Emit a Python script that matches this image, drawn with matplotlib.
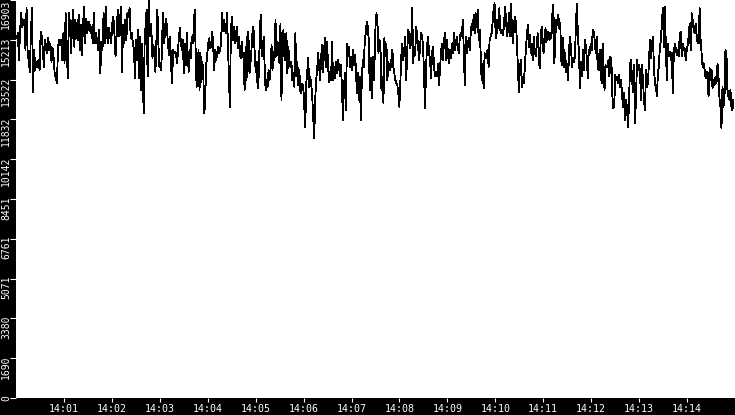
import numpy as np
import matplotlib
matplotlib.use("Agg")
import matplotlib.pyplot as plt
from matplotlib.transforms import ScaledTranslation, blended_transform_factory

# ---- data: value trace in six 2.5-minute windows ----
seg1 = [15280, 15490, 14350, 15560, 16340, 15770, 15980, 16050, 14780, 16550,
        14640, 14350, 13860, 15490, 16550, 13010, 14780, 13930, 14280, 14070,
        14350, 13930, 15560, 15350, 14780, 14070, 15200, 14920, 14640, 15280,
        14780, 15060, 14280, 14850, 14430, 13720, 13650, 13360, 14920, 15200,
        14990, 15200, 14350, 15490, 14210, 16340, 14920, 13580, 16340, 15910,
        14640, 15840, 16480, 14920, 16050, 15630, 15200, 16270, 14780, 15840,
        14570, 15770, 16620, 15060, 16120, 15490, 15980, 15910, 15490, 15770,
        15060, 16340, 15060, 15490, 15200, 14780, 15630, 13790, 15130, 14780,
        16340, 15060, 16620, 15490, 15060, 15700, 15350, 15060, 15910, 16190,
        15490, 14500, 15350, 16480, 15350, 15910, 16620, 13860, 15840, 15060,
        16050, 15200, 16340, 16190, 16550, 15280, 15490, 15060, 14780, 13580]
seg2 = [15200, 14350, 15630, 13580, 15350, 13080, 15060, 13930, 12090, 15200,
        15840, 16480, 13650, 16903, 15350, 15910, 15490, 14430, 14990, 14500,
        13860, 15130, 16480, 15060, 14070, 14210, 13930, 15490, 16340, 15060,
        15770, 16120, 15490, 14920, 14570, 15350, 14140, 13360, 14780, 14640,
        14710, 14640, 14210, 14710, 15350, 15700, 15060, 14780, 15200, 13790,
        15060, 14140, 15490, 14570, 13860, 14780, 14430, 15350, 15060, 15560,
        16480, 14780, 13220, 13860, 14780, 13080, 14640, 13430, 14280, 13500,
        12090, 13010, 14210, 14640, 15060, 15280, 14850, 14990, 15560, 14920,
        13930, 14780, 14350, 14640, 14920, 14640, 14780, 15060, 16340, 15560,
        16050, 15630, 15490, 16340, 15060, 13720, 12370, 15490, 16190, 15200,
        15770, 15060, 15280, 15770, 14850, 15350, 14780, 14430, 15130, 14640,
        14430, 13080, 14920, 13500, 15560, 15350, 13790, 14210, 14780, 15490,
        15770, 14920, 14000]
seg3 = [13860, 14280, 13150, 13650, 15060, 16270, 14500, 14570, 15350, 14140,
        13080, 13500, 13220, 13930, 13500, 13930, 14990, 13930, 14710, 14350,
        16050, 14500, 15130, 14640, 14210, 15910, 12660, 14850, 15630, 14500,
        14350, 15490, 13790, 14920, 14140, 14070, 14280, 13500, 13790, 13220,
        15490, 13650, 14280, 13290, 13930, 13010, 12940, 13360, 13220, 12370,
        11520, 13360, 13860, 14430, 13220, 13650, 13360, 12800, 11880, 11030,
        12660, 13500, 13930, 14640, 14070, 13500, 14500, 14990, 13860, 14850,
        15280, 14070, 15130, 14070, 13430, 13860, 13500, 15130, 13500, 14070,
        13580, 14280, 13790, 14350, 14070, 13650, 14140, 13150, 11810, 13220,
        13790, 12230, 15060, 14570, 14920, 14070, 14500, 13930, 14780, 14140,
        14570, 14070, 12940, 13790, 12660, 13650, 11810, 13500, 14350, 14070,
        15200, 15490, 15980, 15770, 15200, 13080, 14430, 12730, 14500, 13500,
        14500]
seg4 = [15770, 16340, 15910, 14640, 15200, 14920, 13080, 13650, 12510, 15280,
        14500, 15060, 13500, 14280, 14000, 13930, 14350, 14780, 14070, 13790,
        13500, 13360, 13290, 12940, 12370, 13360, 14500, 15060, 14350, 14780,
        15350, 13500, 14780, 15630, 15490, 14850, 15200, 16550, 14210, 14920,
        14570, 15770, 15350, 14920, 14350, 14990, 15490, 15350, 14920, 13580,
        12300, 14070, 14990, 15350, 14640, 14350, 13580, 14640, 14920, 14070,
        13650, 13860, 13650, 14210, 13290, 13930, 14640, 15060, 14350, 15130,
        15490, 14350, 15200, 14640, 14210, 14780, 14430, 15060, 14640, 15490,
        14780, 15060, 15350, 14920, 14640, 15350, 15490, 15350, 16050, 14780,
        13290, 15350, 14640, 14920, 15280, 14780, 15490, 15910, 15630, 16270,
        15490, 16340, 15770, 16480, 15200, 15630, 14640, 13500, 14210, 13150,
        14640, 14430, 14640, 14780, 14070, 15200, 15350, 15490, 15910, 16480,
        16760]
seg5 = [15770, 15280, 16050, 15700, 16550, 15630, 15490, 15630, 15420, 16050,
        16620, 15910, 15350, 15770, 16340, 15350, 16760, 15490, 15060, 15910,
        16190, 15910, 15060, 13930, 13010, 14070, 14350, 13220, 13650, 13360,
        14070, 14780, 15350, 15840, 14920, 15420, 14640, 15060, 14350, 15350,
        14780, 14500, 14920, 15490, 14780, 14000, 15060, 15770, 15280, 14640,
        15060, 15700, 15130, 15490, 15560, 15200, 15490, 15280, 16340, 16690,
        14210, 15350, 16050, 15840, 16270, 15700, 15910, 14350, 14140, 15280,
        14070, 14640, 13860, 14210, 13500, 14850, 15350, 14780, 14070, 14430,
        14280, 14500, 16050, 16760, 15200, 14780, 13150, 14280, 13650, 14780,
        13930, 15200, 14920, 14430, 13580, 14780, 14640, 15060, 14780, 15630,
        15560, 15200, 14640, 15350, 14070, 13930, 14780, 14210, 13360, 15060,
        14140, 13080, 14140, 14070, 14070, 14350, 13650, 14500, 14280, 12800,
        12300, 12510]
seg6 = [13720, 13500, 13650, 13360, 13720, 13220, 13500, 12800, 12370, 12940,
        11810, 12660, 12230, 11520, 12660, 14210, 14350, 13500, 13010, 14140,
        11660, 12800, 14350, 13930, 14140, 13860, 12660, 14140, 13500, 12660,
        12230, 13930, 13220, 13360, 14280, 15200, 14430, 15060, 15350, 14070,
        13360, 13220, 12800, 13790, 14070, 14920, 15200, 15980, 16550, 14920,
        16620, 14920, 13500, 15060, 14500, 14710, 14350, 14640, 12940, 14640,
        15060, 14850, 14570, 14780, 14500, 15490, 15560, 14500, 15060, 14780,
        14850, 14350, 14780, 14990, 15350, 15910, 14780, 16340, 16050, 15630,
        15490, 15910, 15420, 15060, 15060, 16550, 15200, 14640, 14070, 14210,
        13930, 13580, 13860, 13500, 12800, 14000, 13500, 13930, 13150, 13500,
        13290, 13650, 13360, 14210, 13650, 12730, 12370, 11450, 13220, 12370,
        12660, 14780, 14640, 13080, 12800, 12660, 13080, 12370, 12230, 12660]
segments = [seg1, seg2, seg3, seg4, seg5, seg6]
# time window of each segment, seconds after 14:00:00
seg_windows = [(1, 149), (150, 299.6), (300, 449), (450, 599), (600, 749), (750, 898)]

x_range_s = (0, 900)
y_max = 16903
ytick_labels = ["0", "1690", "3380", "5071", "6761", "8451", "10142",
                "11832", "13522", "15213", "16903"]
xtick_labels = ["14:01", "14:02", "14:03", "14:04", "14:05", "14:06", "14:07",
                "14:08", "14:09", "14:10", "14:11", "14:12", "14:13", "14:14"]

times = np.concatenate([np.linspace(a, b, len(s)) for (a, b), s in zip(seg_windows, segments)])
values = np.concatenate([np.asarray(s, dtype=float) for s in segments])

W, H = 735, 415
fig = plt.figure(figsize=(W / 100, H / 100), dpi=100, facecolor="black")
ax = fig.add_axes([16 / W, 17 / H, 719 / W, 398 / H])
ax.set_facecolor("white")
ax.plot(times, values, color="black", lw=0.6, antialiased=False)
ax.set_xlim(*x_range_s)
ax.set_ylim(0, y_max)

for sp in ax.spines.values():
    sp.set_visible(False)

mono = "DejaVu Sans Mono"
xticks = [60 * (i + 1) for i in range(len(xtick_labels))]
ax.set_xticks(xticks)
ax.set_xticklabels(xtick_labels, color="white", fontsize=7.2, family=mono)
ax.tick_params(axis="x", colors="white", length=3.0, width=0.8, pad=1.0, direction="out")

yticks = [y_max * i / (len(ytick_labels) - 1) for i in range(len(ytick_labels))]
ax.set_yticks(yticks)
ax.set_yticklabels([])
ax.tick_params(axis="y", colors="white", length=4.2, width=0.8, pad=0, direction="out")

trans = blended_transform_factory(fig.transFigure, ax.transData)
for i, (v, lab) in enumerate(zip(yticks, ytick_labels)):
    up = 0 if i == len(yticks) - 1 else 3 / 100
    t = trans + ScaledTranslation(0, up, fig.dpi_scale_trans)
    ax.text(11 / W, v, lab, transform=t, rotation=90, ha="right", va="top",
            color="white", fontsize=7.0, family=mono, clip_on=False)

fig.savefig("out.png", dpi=100, facecolor="black")
